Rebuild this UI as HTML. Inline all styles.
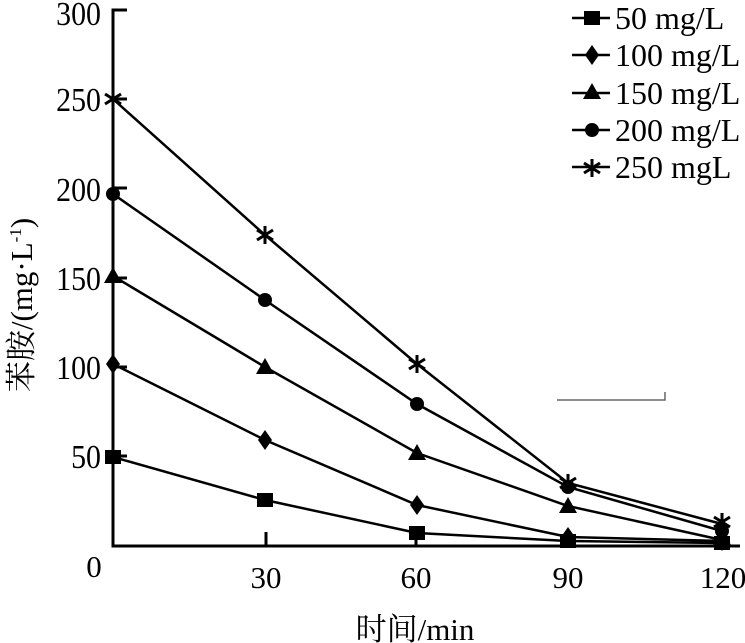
<!DOCTYPE html>
<html><head><meta charset="utf-8">
<style>
html,body{margin:0;padding:0;background:#fff;width:745px;height:643px;overflow:hidden}
svg{display:block}
text{font-family:"Liberation Serif","Noto Serif CJK SC",serif;fill:#000}
</style></head><body>
<svg width="745" height="643" viewBox="0 0 745 643" xmlns="http://www.w3.org/2000/svg">
<defs>
<rect id="sq" x="-8" y="-7" width="16" height="14" fill="#000"/>
<polygon id="di" points="0,-10 7,0 0,10 -7,0" fill="#000"/>
<polygon id="tr" points="0,-9 9,7 -9,7" fill="#000"/>
<circle id="ci" r="7" fill="#000"/>
<g id="st" stroke="#000" stroke-width="3" fill="none"><line x1="0" y1="-9" x2="0" y2="9"/><line x1="-8" y1="-5" x2="8" y2="5"/><line x1="-8" y1="5" x2="8" y2="-5"/></g>
</defs>
<g stroke="#000" stroke-width="3" fill="none">
<polyline points="127,10 113,10 113,546 740,546"/>
<line x1="113" y1="99" x2="127" y2="99"/>
<line x1="113" y1="188" x2="127" y2="188"/>
<line x1="113" y1="278" x2="127" y2="278"/>
<line x1="113" y1="367" x2="127" y2="367"/>
<line x1="113" y1="456" x2="127" y2="456"/>
<line x1="266" y1="532" x2="266" y2="546"/>
<line x1="416" y1="532" x2="416" y2="546"/>
<line x1="568" y1="532" x2="568" y2="546"/>
<line x1="722" y1="532" x2="722" y2="546"/>
</g>
<polyline points="557,400 665,400 665,392" stroke="#666" stroke-width="1.5" fill="none"/>
<g stroke="#000" stroke-width="2.5" fill="none">
<polyline points="113,457 265,500 417,533 568,541 722,543"/>
<polyline points="113,364 265,440 417,505 568,537 722,541"/>
<polyline points="113,276 265,367 417,453 568,506 722,540"/>
<polyline points="113,194 265,300 417,404 568,487 722,531"/>
<polyline points="113,99 265,235 417,364 568,483 722,524"/>
</g>
<use href="#sq" x="113" y="457"/><use href="#sq" x="265" y="500"/><use href="#sq" x="417" y="533"/><use href="#sq" x="568" y="541"/><use href="#sq" x="722" y="543"/>
<use href="#di" x="113" y="364"/><use href="#di" x="265" y="440"/><use href="#di" x="417" y="505"/><use href="#di" x="568" y="537"/><use href="#di" x="722" y="541"/>
<use href="#tr" x="113" y="276"/><use href="#tr" x="265" y="367"/><use href="#tr" x="417" y="453"/><use href="#tr" x="568" y="506"/><use href="#tr" x="722" y="538"/>
<use href="#ci" x="113" y="194"/><use href="#ci" x="265" y="300"/><use href="#ci" x="417" y="404"/><use href="#ci" x="568" y="487"/><use href="#ci" x="722" y="531"/>
<use href="#st" x="113" y="99"/><use href="#st" x="265" y="235"/><use href="#st" x="417" y="364"/><use href="#st" x="568" y="483"/><use href="#st" x="722" y="522"/>
<g font-size="34" text-anchor="end">
<text transform="translate(101,25) scale(0.88,1)">300</text>
<text transform="translate(101,111) scale(0.88,1)">250</text>
<text transform="translate(101,201) scale(0.88,1)">200</text>
<text transform="translate(101,290) scale(0.88,1)">150</text>
<text transform="translate(101,379) scale(0.88,1)">100</text>
<text transform="translate(101,468) scale(0.88,1)">50</text>
</g>
<g font-size="31" text-anchor="middle">
<text x="94" y="577">0</text>
<text x="266" y="588">30</text>
<text x="416" y="588">60</text>
<text x="568" y="588">90</text>
<text x="723" y="588">120</text>
<text x="415" y="640">时间/min</text>
</g>
<text font-size="31" text-anchor="middle" transform="translate(32,305) rotate(-90)">苯胺/(mg·L<tspan font-size="17" dy="-11">-1</tspan><tspan dy="11">)</tspan></text>
<g stroke="#000" stroke-width="2.5">
<line x1="572" y1="18" x2="610" y2="18"/>
<line x1="572" y1="55" x2="610" y2="55"/>
<line x1="572" y1="93" x2="610" y2="93"/>
<line x1="572" y1="130" x2="610" y2="130"/>
<line x1="572" y1="167" x2="610" y2="167"/>
</g>
<use href="#sq" x="592" y="18"/><use href="#di" x="592" y="55"/><use href="#tr" x="592" y="92"/><use href="#ci" x="592" y="130"/><use href="#st" x="592" y="168"/>
<g font-size="32">
<text x="615" y="29">50 mg/L</text>
<text x="615" y="66">100 mg/L</text>
<text x="615" y="104">150 mg/L</text>
<text x="615" y="141">200 mg/L</text>
<text x="615" y="178">250 mgL</text>
</g>
</svg>
</body></html>
